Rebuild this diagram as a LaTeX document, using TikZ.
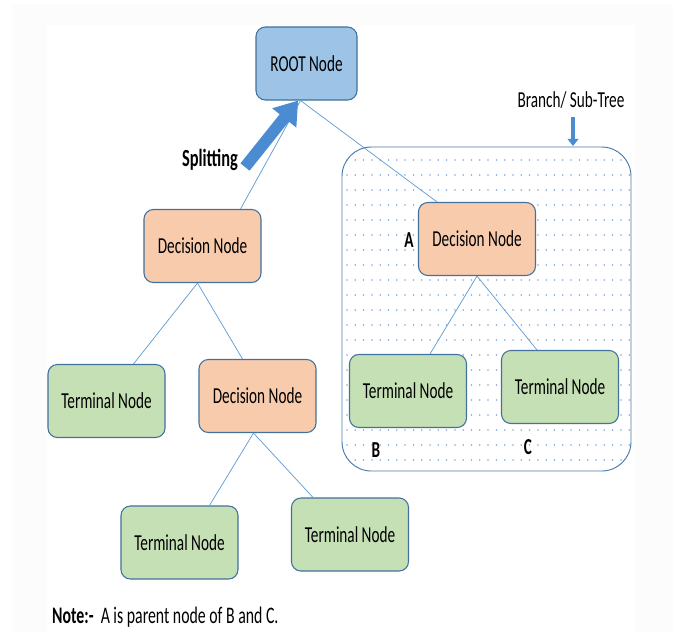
\documentclass[tikz,border=0pt]{standalone}
\usepackage{fontspec}
\setmainfont{Carlito}
\usepackage{xcolor}
\usetikzlibrary{arrows.meta}

\definecolor{rootfill}{HTML}{9DC3E6}
\definecolor{decfill}{HTML}{F8CBAD}
\definecolor{termfill}{HTML}{C5E0B4}
\definecolor{boxline}{HTML}{41719C}
\definecolor{linkblue}{HTML}{5B9BD5}
\definecolor{arrowblue}{HTML}{4A8BD2}
\definecolor{dotblue}{HTML}{7FA8DC}
\definecolor{paper}{HTML}{FCFCFC}

\newcommand{\tall}[1]{\scalebox{1}[1.5]{#1}}

\begin{document}
\begin{tikzpicture}[x=0.03cm, y=-0.03cm,
    box/.style={draw=boxline, line width=0.9pt, rounded corners=8pt,
        minimum width=3.51cm, minimum height=2.19cm, inner sep=0pt,
        font=\fontsize{13}{15}\selectfont},
    rootbox/.style={box, fill=rootfill, minimum width=3.03cm},
    decbox/.style={box, fill=decfill},
    termbox/.style={box, fill=termfill},
    link/.style={draw=linkblue, line width=0.6pt},
    tag/.style={font=\fontsize{13}{15}\selectfont\bfseries, inner sep=0pt}]
    \useasboundingbox (0,0) rectangle (677,632);
    \fill[paper] (12,4) rectangle (673,632);
    \fill[white] (47,25) rectangle (635,632);

    % branch / sub-tree area
    \begin{scope}
        \clip[rounded corners=25pt] (342,147) rectangle (631,471);
        \foreach \i in {0,...,34}
            \foreach \j in {0,...,20}
                \fill[dotblue] (347+\i*8.3, 160+\j*15) circle (0.75pt);
    \end{scope}
    \draw[linkblue!80!black, line width=0.8pt, rounded corners=25pt] (342,147) rectangle (631,471);

    \node[rootbox] (root) at (306.5,63.5) {\tall{ROOT Node}};
    \node[decbox]  (dl)   at (202.5,246)  {\tall{Decision Node}};
    \node[decbox]  (da)   at (477,239)    {\tall{Decision Node}};
    \node[termbox] (tl)   at (106.5,401)  {\tall{Terminal Node}};
    \node[decbox]  (dm)   at (257.5,396)  {\tall{Decision Node}};
    \node[termbox] (tb)   at (408,391)    {\tall{Terminal Node}};
    \node[termbox] (tc)   at (560,387)    {\tall{Terminal Node}};
    \node[termbox] (tbl)  at (179.5,542.5) {\tall{Terminal Node}};
    \node[termbox] (tbr)  at (350,534.5)  {\tall{Terminal Node}};

    % links
    \draw[link] ([xshift=-0.18cm]root.south) -- ([xshift=1.14cm]dl.north);
    \draw[link] ([xshift=-0.18cm]root.south) -- ([xshift=-1.2cm]da.north);
    \draw[link] ([xshift=-0.15cm]dl.south) -- ([xshift=0.81cm]tl.north);
    \draw[link] ([xshift=-0.15cm]dl.south) -- ([xshift=-0.45cm]dm.north);
    \draw[link] ([xshift=-0.12cm]dm.south) -- ([xshift=0.9cm]tbl.north);
    \draw[link] ([xshift=-0.12cm]dm.south) -- ([xshift=-1.11cm]tbr.north);
    \draw[link] (da.south) -- ([xshift=0.66cm]tb.north);
    \draw[link] (da.south) -- ([xshift=-0.69cm]tc.north);

    % labels
    \node[tag] (split) at (210,160) {\scalebox{1}[1.5]{\fontsize{14}{16}\selectfont Splitting}};
    \coordinate (splittail) at (245,167);
    \draw[arrowblue, line width=10pt, -{Triangle[width=25pt,length=19pt]}]
        (splittail) -- ([xshift=-0.25cm]root.south);

    \node[font=\fontsize{13}{15}\selectfont, inner sep=0pt] (branch) at (571,100) {\tall{Branch/ Sub-Tree}};
    \coordinate (brtop) at (573,146);
    \draw[arrowblue, line width=3.2pt, -{Triangle[width=9pt,length=6pt]}]
        ([yshift=-0.25cm]branch.south -| brtop) -- (brtop);

    \node[tag] (lA) at (409,240) {\tall{A}};
    \node[tag] (lB) at (376,450) {\tall{B}};
    \node[tag] (lC) at (528,447) {\tall{C}};

    \node[anchor=west, inner sep=0pt, font=\fontsize{13.5}{15}\selectfont] (note) at (52,617)
        {\tall{\textbf{Note:-}~~A is parent node of B and C.}};
\end{tikzpicture}
\end{document}
